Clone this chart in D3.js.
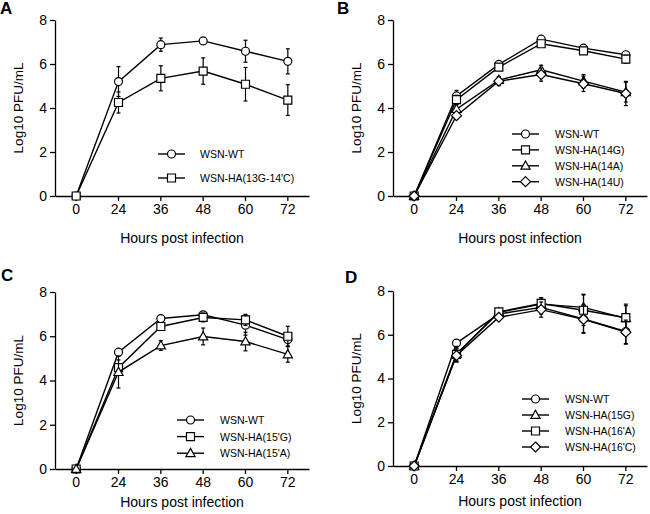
<!DOCTYPE html>
<html>
<head>
<meta charset="utf-8">
<script src="https://cdn.jsdelivr.net/npm/d3@7"></script>
<style>
  body { margin: 0; background: #fff; }
  svg { display: block; font-family: "Liberation Sans", Arial, sans-serif; }
</style>
</head>
<body>
<svg id="chart" width="650" height="514"></svg>
<script>
// categories and ticks
const hours = ['0', '24', '36', '48', '60', '72'];
const yTicks = [0, 2, 4, 6, 8];

// Panel A
const aWT = [0, 5.2, 6.88, 7.05, 6.58, 6.12];
const aWTErr = [0, 0.68, 0.3, 0.08, 0.5, 0.57];
const a13G = [0, 4.25, 5.35, 5.68, 5.08, 4.36];
const a13GErr = [0, 0.48, 0.57, 0.6, 0.76, 0.7];

// Panel B
const bWT = [0, 4.55, 5.98, 7.13, 6.72, 6.42];
const bWTErr = [0, 0.25, 0.12, 0.1, 0.1, 0.12];
const b14G = [0, 4.38, 5.86, 6.92, 6.6, 6.22];
const b14GErr = [0, 0.2, 0.1, 0.12, 0.1, 0.18];
const b14A = [0, 3.95, 5.27, 5.74, 5.22, 4.72];
const b14AErr = [0, 0.2, 0.15, 0.2, 0.3, 0.45];
const b14U = [0, 3.65, 5.22, 5.52, 5.1, 4.66];
const b14UErr = [0, 0.15, 0.2, 0.3, 0.35, 0.55];

// Panel C
const cWT = [0, 5.28, 6.8, 6.97, 6.5, 5.85];
const cWTErr = [0, 0.15, 0.12, 0.15, 0.45, 0.3];
const c15G = [0, 4.58, 6.44, 6.85, 6.74, 6.0];
const c15GErr = [0, 0.35, 0.15, 0.2, 0.25, 0.45];
const c15A = [0, 4.38, 5.58, 5.99, 5.76, 5.18];
const c15AErr = [0, 0.72, 0.22, 0.38, 0.42, 0.35];

// Panel D
const dWT = [0, 5.62, 6.95, 7.25, 6.72, 6.15];
const dWTErr = [0, 0.1, 0.15, 0.3, 0.65, 0.55];
const d15G = [0, 5.12, 7.02, 7.4, 7.25, 6.75];
const d15GErr = [0, 0.35, 0.15, 0.3, 0.6, 0.65];
const d16A = [0, 5.1, 7.05, 7.43, 7.12, 6.78];
const d16AErr = [0, 0.3, 0.15, 0.25, 0.7, 0.55];
const d16C = [0, 5.05, 6.8, 7.15, 6.7, 6.12];
const d16CErr = [0, 0.3, 0.12, 0.35, 0.6, 0.55];

const panels = [
  {
    label: 'A', lx: 0, ly: 14,
    x0: 55, x1: 309, yb: 196, yt: 20, titleY: 243,
    legX: 158, legY: 154, legStep: 24, legTextX: 200,
    series: [
      { name: 'WSN-WT', shape: 'circle', v: aWT, e: aWTErr },
      { name: "WSN-HA(13G-14'C)", shape: 'square', v: a13G, e: a13GErr }
    ]
  },
  {
    label: 'B', lx: 337, ly: 14,
    x0: 393, x1: 647, yb: 196, yt: 20, titleY: 243,
    legX: 512, legY: 134, legStep: 15.9, legTextX: 555,
    series: [
      { name: 'WSN-WT', shape: 'circle', v: bWT, e: bWTErr },
      { name: 'WSN-HA(14G)', shape: 'square', v: b14G, e: b14GErr },
      { name: 'WSN-HA(14A)', shape: 'triangle', v: b14A, e: b14AErr },
      { name: 'WSN-HA(14U)', shape: 'diamond', v: b14U, e: b14UErr }
    ]
  },
  {
    label: 'C', lx: 1, ly: 281,
    x0: 55, x1: 309, yb: 469, yt: 292, titleY: 507,
    legX: 177, legY: 420, legStep: 16.6, legTextX: 220,
    series: [
      { name: 'WSN-WT', shape: 'circle', v: cWT, e: cWTErr },
      { name: "WSN-HA(15'G)", shape: 'square', v: c15G, e: c15GErr },
      { name: "WSN-HA(15'A)", shape: 'triangle', v: c15A, e: c15AErr }
    ]
  },
  {
    label: 'D', lx: 345, ly: 283,
    x0: 393, x1: 647, yb: 466, yt: 291, titleY: 506,
    legX: 522, legY: 399, legStep: 16, legTextX: 565,
    series: [
      { name: 'WSN-WT', shape: 'circle', v: dWT, e: dWTErr },
      { name: 'WSN-HA(15G)', shape: 'triangle', v: d15G, e: d15GErr },
      { name: "WSN-HA(16'A)", shape: 'square', v: d16A, e: d16AErr },
      { name: "WSN-HA(16'C)", shape: 'diamond', v: d16C, e: d16CErr }
    ]
  }
];

const svg = d3.select('#chart');

// marker path for a given shape, centred on 0,0
function markerPath(shape) {
  if (shape === 'circle') return d3.symbol(d3.symbolCircle, 50)();
  if (shape === 'square') return 'M-4,-4H4V4H-4Z';
  if (shape === 'triangle') return 'M0,-4.8L4.6,3.4H-4.6Z';
  return 'M0,-5L5,0L0,5L-5,0Z';
}

panels.forEach(p => {
  const g = svg.append('g');

  const x = d3.scaleBand().domain(hours).range([p.x0, p.x1]);
  const y = d3.scaleLinear().domain([0, 8]).range([p.yb, p.yt]);
  const cx = d => x(d) + x.bandwidth() / 2;

  // axes
  g.append('g')
    .attr('transform', `translate(0,${p.yb})`)
    .call(d3.axisBottom(x).tickSize(5).tickPadding(3).tickSizeOuter(0))
    .call(a => a.selectAll('text').attr('font-size', 14).attr('fill', '#000'));

  g.append('g')
    .attr('transform', `translate(${p.x0},0)`)
    .call(d3.axisLeft(y).tickValues(yTicks).tickSize(5).tickPadding(3).tickSizeOuter(0))
    .call(a => a.selectAll('text').attr('font-size', 14).attr('fill', '#000'));

  g.selectAll('.domain, .tick line').attr('stroke', '#000').attr('stroke-width', 1.3);

  // titles
  g.append('text')
    .attr('x', (p.x0 + p.x1) / 2)
    .attr('y', p.titleY)
    .attr('text-anchor', 'middle')
    .attr('font-size', 14)
    .text('Hours post infection');

  g.append('text')
    .attr('transform', `translate(${p.x0 - 32},${(p.yb + p.yt) / 2}) rotate(-90)`)
    .attr('text-anchor', 'middle')
    .attr('font-size', 13.5)
    .text('Log10 PFU/mL');

  svg.append('text')
    .attr('x', p.lx)
    .attr('y', p.ly)
    .attr('font-size', 17)
    .attr('font-weight', 'bold')
    .text(p.label);

  const line = d3.line().x((d, i) => cx(hours[i])).y(d => y(d));

  p.series.forEach(s => {
    const sg = g.append('g');
    // error bars
    s.v.forEach((v, i) => {
      if (!s.e[i]) return;
      const xx = cx(hours[i]);
      sg.append('line')
        .attr('x1', xx).attr('x2', xx)
        .attr('y1', y(v - s.e[i])).attr('y2', y(v + s.e[i]))
        .attr('stroke', '#000').attr('stroke-width', 1.2);
      [v - s.e[i], v + s.e[i]].forEach(t => {
        sg.append('line')
          .attr('x1', xx - 2).attr('x2', xx + 2)
          .attr('y1', y(t)).attr('y2', y(t))
          .attr('stroke', '#000').attr('stroke-width', 1.2);
      });
    });
    sg.append('path')
      .datum(s.v)
      .attr('d', line)
      .attr('fill', 'none')
      .attr('stroke', '#000')
      .attr('stroke-width', 1.4);
    sg.selectAll('.mk')
      .data(s.v)
      .enter()
      .append('path')
      .attr('transform', (d, i) => `translate(${cx(hours[i])},${y(d)})`)
      .attr('d', markerPath(s.shape))
      .attr('fill', '#fff')
      .attr('stroke', '#000')
      .attr('stroke-width', 1.2);
  });

  // legend
  p.series.forEach((s, i) => {
    const ly = p.legY + i * p.legStep;
    g.append('line')
      .attr('x1', p.legX).attr('x2', p.legX + 27)
      .attr('y1', ly).attr('y2', ly)
      .attr('stroke', '#000').attr('stroke-width', 1.4);
    g.append('path')
      .attr('transform', `translate(${p.legX + 13.5},${ly})`)
      .attr('d', markerPath(s.shape))
      .attr('fill', '#fff')
      .attr('stroke', '#000')
      .attr('stroke-width', 1.2);
    g.append('text')
      .attr('x', p.legTextX)
      .attr('y', ly + 4)
      .attr('font-size', 10.5)
      .text(s.name);
  });
});
</script>
</body>
</html>
